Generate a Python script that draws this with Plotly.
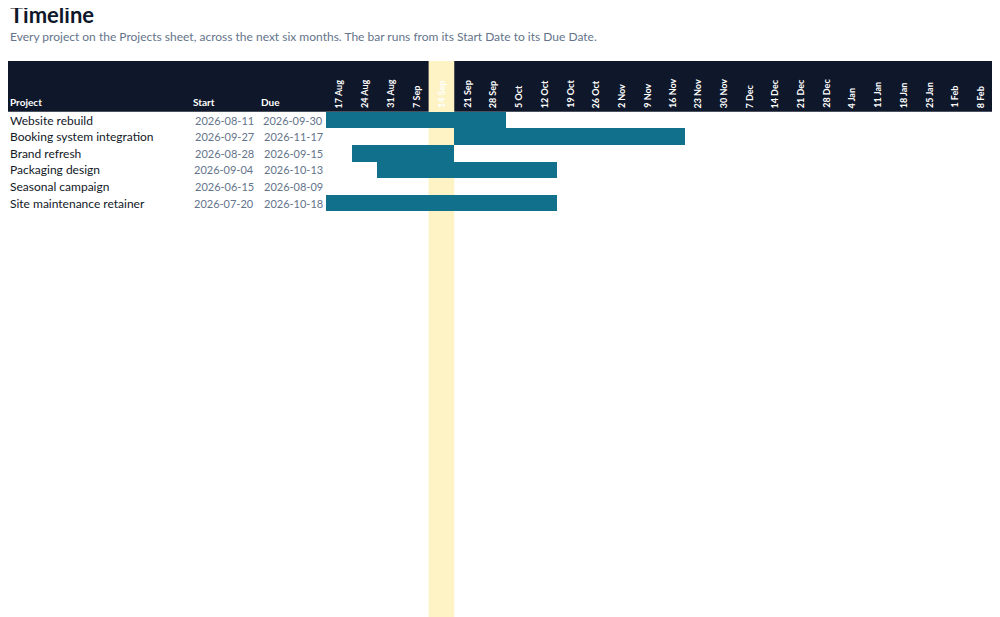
import pandas as pd
import plotly.graph_objects as go

projects = ["Website rebuild", "Booking system integration", "Brand refresh",
            "Packaging design", "Seasonal campaign", "Site maintenance retainer"]
starts = ["2026-08-11", "2026-09-27", "2026-08-28", "2026-09-04", "2026-06-15", "2026-07-20"]
dues = ["2026-09-30", "2026-11-17", "2026-09-15", "2026-10-13", "2026-08-09", "2026-10-18"]
first_week = "2026-08-17"
n_weeks = 26
today = "2026-09-14"

BAR = "#11708c"
NAVY = "#0f172a"
HILITE = "#fdf3c4"
GREY = "#64748b"
FONT = "Lato, sans-serif"

week0 = pd.Timestamp(first_week)
weeks = [week0 + pd.Timedelta(weeks=i) for i in range(n_weeks)]
week_labels = [f"{w.day} {w.strftime('%b')}" for w in weeks]


def week_index(d):
    return (pd.Timestamp(d) - week0).days // 7


rows = list(range(len(projects)))
bases, lengths = [], []
for s, d in zip(starts, dues):
    a = max(week_index(s), 0)
    b = min(week_index(d) + 1, n_weeks)
    bases.append(a)
    lengths.append(max(b - a, 0))

fig = go.Figure(go.Bar(
    y=rows, x=lengths, base=bases, orientation="h", width=1,
    marker=dict(color=BAR, line=dict(width=0)), hoverinfo="skip",
))

ti = week_index(today)
fig.add_shape(type="rect", xref="paper", yref="y", x0=0, x1=0.985, y0=-3.55, y1=-0.5,
              fillcolor=NAVY, line_width=0, layer="below")
fig.add_shape(type="rect", xref="x", yref="paper", x0=ti, x1=ti + 1, y0=0, y1=1 - 53 / 617,
              fillcolor=HILITE, line_width=0, layer="below")

ann = []
for i, w in enumerate(week_labels):
    ann.append(dict(x=i + 0.5, y=-0.6, xref="x", yref="y", text=f"<b>{w}</b>", textangle=-90,
                    showarrow=False, yanchor="bottom", xanchor="center",
                    font=dict(color="white", size=9, family=FONT)))
for txt, px_, anchor in [("Project", 0, "left"), ("Start", 183, "left"), ("Due", 251, "left")]:
    ann.append(dict(x=px_ / 1000, y=-0.6, xref="paper", yref="y", text=f"<b>{txt}</b>",
                    showarrow=False, xanchor=anchor, yanchor="bottom",
                    font=dict(color="white", size=10, family=FONT)))
for r, p, s, d in zip(rows, projects, starts, dues):
    ann.append(dict(x=0, y=r, xref="paper", yref="y", text=p, showarrow=False,
                    xanchor="left", font=dict(color="#111827", size=12, family=FONT)))
    ann.append(dict(x=0.248, y=r, xref="paper", yref="y", text=s, showarrow=False,
                    xanchor="right", font=dict(color=GREY, size=11, family=FONT)))
    ann.append(dict(x=0.317, y=r, xref="paper", yref="y", text=d, showarrow=False,
                    xanchor="right", font=dict(color=GREY, size=11, family=FONT)))
ann.append(dict(x=0, y=1 - 6 / 617, xref="paper", yref="paper", text="<b>Timeline</b>",
                showarrow=False, xanchor="left", yanchor="middle",
                font=dict(color=NAVY, size=22, family=FONT)))
ann.append(dict(x=0, y=1 - 29 / 617, xref="paper", yref="paper",
                text="Every project on the Projects sheet, across the next six months. "
                     "The bar runs from its Start Date to its Due Date.",
                showarrow=False, xanchor="left", yanchor="middle",
                font=dict(color=GREY, size=12, family=FONT)))

fig.update_layout(
    width=1000, height=617, margin=dict(l=0, r=0, t=0, b=0),
    plot_bgcolor="white", paper_bgcolor="white", showlegend=False,
    xaxis=dict(domain=[0.318, 0.985], range=[0, n_weeks], visible=False, fixedrange=True),
    yaxis=dict(range=[30.42, -6.75], visible=False, fixedrange=True),
    annotations=ann, bargap=0,
)
fig.write_html("out.html")
